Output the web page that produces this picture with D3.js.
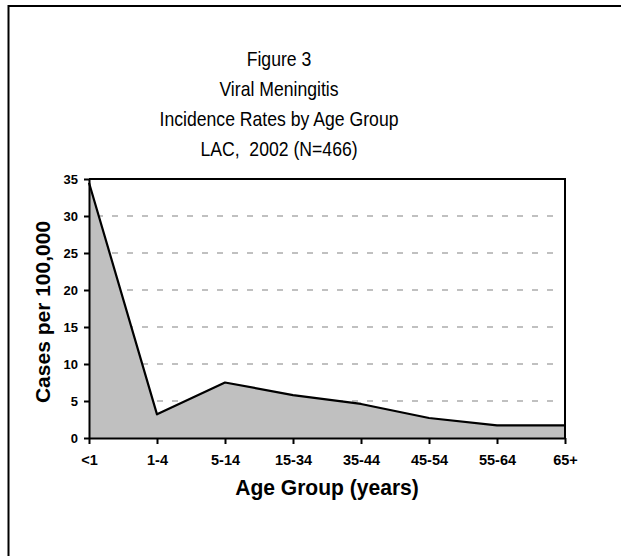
<!DOCTYPE html>
<html>
<head>
<meta charset="utf-8">
<script src="https://cdn.jsdelivr.net/npm/d3@7"></script>
<style>
	html, body { margin:0; background:#fff; overflow:hidden; }
	svg { display:block; }
	text { font-family: "Liberation Sans", Arial, sans-serif; fill:#000; white-space:pre; }
</style>
</head>
<body>
<div id="chart-box"></div>
<script>
// Data
const ageGroups= ["<1","1-4","5-14","15-34","35-44","45-54","55-64","65+"];
const rates= [34.5, 3.2, 7.5, 5.8, 4.6, 2.7, 1.7, 1.7];
const yTicks= [0,5,10,15,20,25,30,35];
const titleLines= ["Figure 3","Viral Meningitis","Incidence Rates by Age Group","LAC,  2002 (N=466)"];

const chart=
{
	// text in the original is a bit taller than plain Arial, so squeeze it sideways
	label: function (svg, x, y, str, size, bold, sx, rot)
	{
		return svg.append("text")
		.attr("transform", "translate("+x+","+y+")"+(rot ? " rotate("+rot+")" : "")+" scale("+sx+",1)")
		.attr("text-anchor","middle")
		.style("font-size", size+"px")
		.style("font-weight", bold ? "bold" : "normal")
		.text(str);
	},
	draw: function ()
	{
		const w= 621;
		const h= 556;
		// plot area
		const left= 89, right= 565, top= 179, bottom= 438;

		const svg = d3.select("#chart-box")
		.append("svg")
		.attr("width", w)
		.attr("height", h);

		// outer frame: only its left and top edges fall inside the picture
		svg.append("path")
		.attr("d", "M8.5,"+(h+5)+"V6H"+(w+5))
		.style("fill","none")
		.style("stroke","#000")
		.style("stroke-width", 2);

		// Title
		titleLines.forEach((t,i)=>
		{
			this.label(svg, 279, 65.5 + i*30.3, t, 20.5, false, 0.86);
		});

		// Scales
		const xScale= d3.scalePoint()
		 .domain(ageGroups)
		 .range([left, right]);
		const yScale= d3.scaleLinear()
		 .domain([0, 35])
		 .range([bottom, top]);

		// Dashed grid
		svg.selectAll(".grid")
		.data(yTicks.filter(t=> t>0 && t<35))
		.enter()
		.append("line")
		.attr("x1", left+8)
		.attr("x2", right-8)
		.attr("y1", d=> yScale(d))
		.attr("y2", d=> yScale(d))
		.style("stroke","#c0c0c0")
		.style("stroke-width", 2)
		.style("stroke-dasharray","6,9");

		// Area + line
		const data= ageGroups.map((g,i)=> [g, rates[i]]);
		const area= d3.area()
		 .x(d=> xScale(d[0]))
		 .y0(yScale(0))
		 .y1(d=> yScale(d[1]));
		const line= d3.line()
		 .x(d=> xScale(d[0]))
		 .y(d=> yScale(d[1]));
		svg.append("path")
		.datum(data)
		.attr("d", area)
		.style("fill","#c0c0c0");
		svg.append("path")
		.datum(data)
		.attr("d", line)
		.style("fill","none")
		.style("stroke","#000")
		.style("stroke-width", 2.2)
		.style("stroke-linejoin","round");

		// plot border top and right
		svg.append("path")
		.attr("d", "M"+left+","+top+"H"+right+"V"+bottom)
		.style("fill","none")
		.style("stroke","#000")
		.style("stroke-width", 2);

		// Y axis
		const yAxis= d3.axisLeft(yScale)
		 .tickValues(yTicks)
		 .tickSizeInner(5)
		 .tickSizeOuter(0)
		 .tickPadding(6);
		svg.append("g")
		 .attr("id","y-axis")
		 .attr("transform", "translate("+left+",0)")
		 .call(yAxis);

		// X axis
		const xAxis= d3.axisBottom(xScale)
		 .tickSizeInner(6)
		 .tickSizeOuter(0)
		 .tickPadding(12);
		svg.append("g")
		 .attr("id","x-axis")
		 .attr("transform", "translate(0,"+bottom+")")
		 .call(xAxis);

		svg.selectAll("#x-axis path, #y-axis path, #x-axis line, #y-axis line")
		 .style("stroke","#000")
		 .style("stroke-width", 2);
		svg.selectAll("#x-axis text, #y-axis text")
		 .style("font-family","'Liberation Sans', Arial, sans-serif")
		 .style("font-weight","bold")
		 .style("fill","#000");
		svg.selectAll("#y-axis text")
		 .style("font-size","13px");
		svg.selectAll("#x-axis text")
		 .style("font-size","14.5px")
		 .attr("dy","0.6em");

		// Axis titles
		this.label(svg, (left+right)/2, 495, "Age Group (years)", 21.5, true, 0.98);
		this.label(svg, 50, 312, "Cases per 100,000", 21, true, 1, -90);
	}
};

document.addEventListener("DOMContentLoaded", function(event)
{
	chart.draw();
});
</script>
</body>
</html>
